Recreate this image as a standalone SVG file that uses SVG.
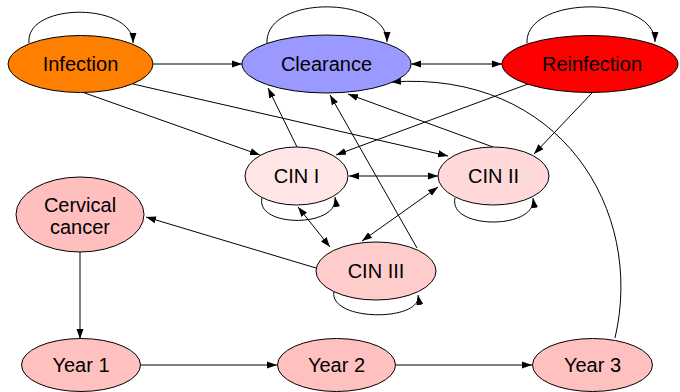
<svg xmlns="http://www.w3.org/2000/svg" width="680" height="392" viewBox="0 0 680 392">
<style>
.n ellipse{stroke:#000;stroke-width:1}
.n text{font-family:"Liberation Sans",Arial,Helvetica,sans-serif;font-size:20px;text-anchor:middle;fill:#000}
.e path{fill:none;stroke:#000;stroke-width:1;marker-end:url(#ah)}
.e path.b{marker-start:url(#ah)}
</style>
<defs>
<marker id="ah" markerUnits="userSpaceOnUse" markerWidth="10" markerHeight="8" refX="10" refY="3.5" orient="auto-start-reverse" viewBox="0 0 10 7">
<path d="M0,0 L10,3.5 L0,7 z" fill="#000"/>
</marker>
</defs>
<rect width="680" height="392" fill="#fff"/>
<g id="edges" class="e">
<path d="M29,43 C25,2 133,2 133,43"/>
<path d="M267,43 C265,-5 387,-5 387,42"/>
<path d="M527,43 C525,-5 655,-5 655,42"/>
<path d="M153,64 L242,64"/>
<path class="b" d="M411,64 L502,64"/>
<path d="M82,92 L260,155"/>
<path d="M133,84 L448,156"/>
<path d="M528,84 L336,155"/>
<path d="M592,93 L534,154"/>
<path d="M297,147 L268,88"/>
<path d="M417,248 L330,95"/>
<path d="M493,147 L348,94"/>
<path d="M615,338 C645,210 560,70 391,82"/>
<path class="b" d="M349,176 L438,176"/>
<path class="b" d="M298,207 L330,247"/>
<path class="b" d="M362,241 L438,187"/>
<path d="M316,268 L146,217"/>
<path d="M262,198 C255,228 340,228 335,197"/>
<path d="M455,198 C448,230 538,230 533,198"/>
<path d="M334,291 C328,322 423,322 418,295"/>
<path d="M80,252 L80,339"/>
<path d="M141,365 L277,365"/>
<path d="M396,365 L532,365"/>
</g>
<g id="infection" class="n"><ellipse cx="80.5" cy="64" rx="72.5" ry="28.5" fill="#FF8000"/><text x="80.5" y="71">Infection</text></g>
<g id="clearance" class="n"><ellipse cx="326.5" cy="64" rx="84.5" ry="29" fill="#9999FF"/><text x="326.5" y="71">Clearance</text></g>
<g id="reinfection" class="n"><ellipse cx="590" cy="64" rx="88" ry="28.5" fill="#FF0000"/><text x="592" y="71">Reinfection</text></g>
<g id="cin1" class="n"><ellipse cx="296.5" cy="176" rx="51.5" ry="29" fill="#FFE5E5"/><text x="296.5" y="183">CIN I</text></g>
<g id="cin2" class="n"><ellipse cx="493.5" cy="176" rx="55.5" ry="29" fill="#FFD9D9"/><text x="493.5" y="183">CIN II</text></g>
<g id="cin3" class="n"><ellipse cx="376" cy="271" rx="60" ry="29" fill="#FFCCCC"/><text x="376" y="278">CIN III</text></g>
<g id="cancer" class="n"><ellipse cx="80" cy="214.5" rx="64" ry="37.5" fill="#FFBFBF"/><text x="80" y="212">Cervical</text><text x="80" y="234">cancer</text></g>
<g id="year1" class="n"><ellipse cx="81" cy="365" rx="59.5" ry="26.5" fill="#FFC0C0"/><text x="81" y="372">Year 1</text></g>
<g id="year2" class="n"><ellipse cx="336.5" cy="365" rx="59" ry="26.5" fill="#FFC0C0"/><text x="336.5" y="372">Year 2</text></g>
<g id="year3" class="n"><ellipse cx="592.5" cy="365" rx="60" ry="26.5" fill="#FFC0C0"/><text x="592.5" y="372">Year 3</text></g>
</svg>
